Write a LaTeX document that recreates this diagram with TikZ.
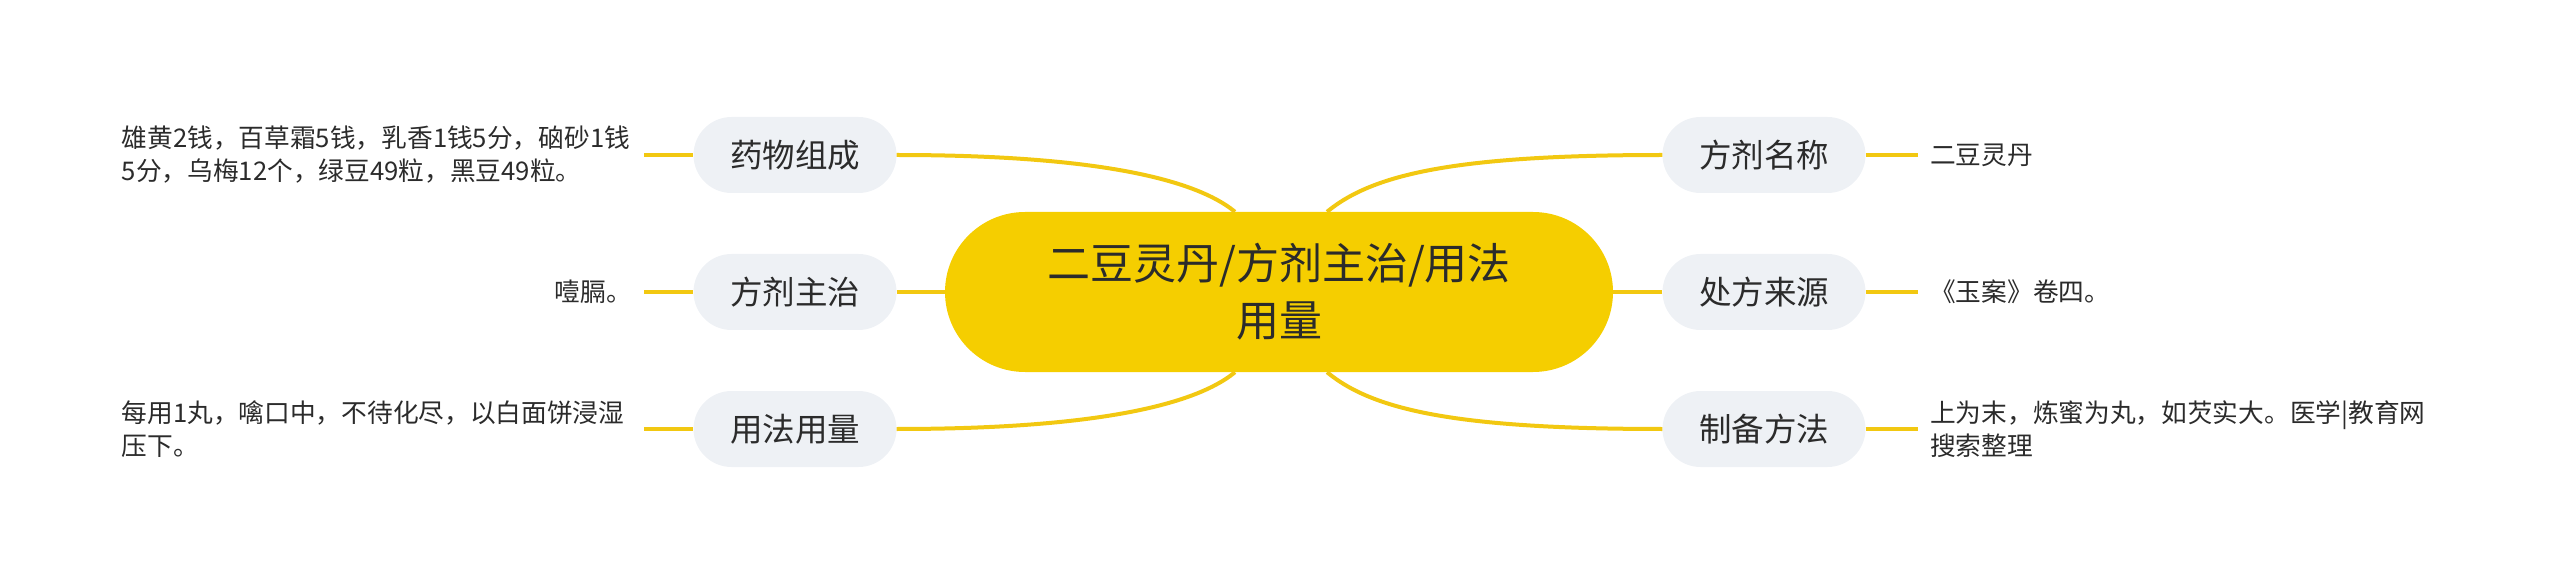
\documentclass[tikz,border=0pt]{standalone}
\usepackage{fontspec}
\setmainfont{Noto Sans CJK SC}
\definecolor{lineyellow}{HTML}{F2C811}
\definecolor{rootyellow}{HTML}{F5CE00}
\definecolor{branchgray}{HTML}{EEF1F5}
\definecolor{textdark}{HTML}{2B2B2B}
\begin{document}
\begin{tikzpicture}[x=1pt,y=-1pt,
    root/.style={fill=rootyellow, rounded corners=80pt, minimum width=668pt,
      minimum height=160pt, inner sep=0pt, align=center, text=textdark,
      font=\fontsize{43}{57}\selectfont},
    branch/.style={fill=branchgray, rounded corners=38pt, minimum width=203pt,
      minimum height=76pt, inner sep=0pt, text=textdark,
      font=\fontsize{32.5}{40}\selectfont},
    leaf/.style={align=left, inner xsep=12pt, inner ysep=0pt, text=textdark,
      font=\fontsize{25.7}{33}\selectfont},
    leftleaf/.style={leaf, anchor=east, text width=510pt},
    link/.style={draw=lineyellow, line width=4pt}]
  \useasboundingbox (0,0) rectangle (2560,585);
  \draw
    (1279,292) node[root] (root){二豆灵丹/方剂主治/用法\\用量}
    (795,155) node[branch] (zucheng){药物组成}
    (795,292) node[branch] (zhuzhi){方剂主治}
    (795,429) node[branch] (yongfa){用法用量}
    (1764,155) node[branch] (mingcheng){方剂名称}
    (1764,292) node[branch] (laiyuan){处方来源}
    (1764,429) node[branch] (zhibei){制备方法}
    (644,155) node[leftleaf] (zuchengtxt){雄黄2钱，百草霜5钱，乳香1钱5分，硇砂1钱\\5分，乌梅12个，绿豆49粒，黑豆49粒。}
    (644,292) node[leaf,anchor=east] (zhuzhitxt){噎膈。}
    (644,429) node[leftleaf] (yongfatxt){每用1丸，噙口中，不待化尽，以白面饼浸湿\\压下。}
    (1918,155) node[leaf,anchor=west] (mingchengtxt){二豆灵丹}
    (1918,292) node[leaf,anchor=west] (laiyuantxt){《玉案》卷四。}
    (1918,429) node[leaf,anchor=west] (zhibeitxt){上为末，炼蜜为丸，如芡实大。医学|教育网\\搜索整理};
  \begin{scope}[link]
    \draw (zucheng.east) .. controls +(180,0) and +(-45,-37) .. ([xshift=-44pt]root.north);
    \draw (zhuzhi.east) -- (root.west);
    \draw (yongfa.east) .. controls +(180,0) and +(-45,37) .. ([xshift=-44pt]root.south);
    \draw (mingcheng.west) .. controls +(-210,0) and +(45,-37) .. ([xshift=48pt]root.north);
    \draw (laiyuan.west) -- (root.east);
    \draw (zhibei.west) .. controls +(-210,0) and +(45,37) .. ([xshift=48pt]root.south);
    \draw (zuchengtxt.east) -- (zucheng.west);
    \draw (zhuzhitxt.east) -- (zhuzhi.west);
    \draw (yongfatxt.east) -- (yongfa.west);
    \draw (mingcheng.east) -- (mingchengtxt.west);
    \draw (laiyuan.east) -- (laiyuantxt.west);
    \draw (zhibei.east) -- (zhibeitxt.west);
  \end{scope}
\end{tikzpicture}
\end{document}
